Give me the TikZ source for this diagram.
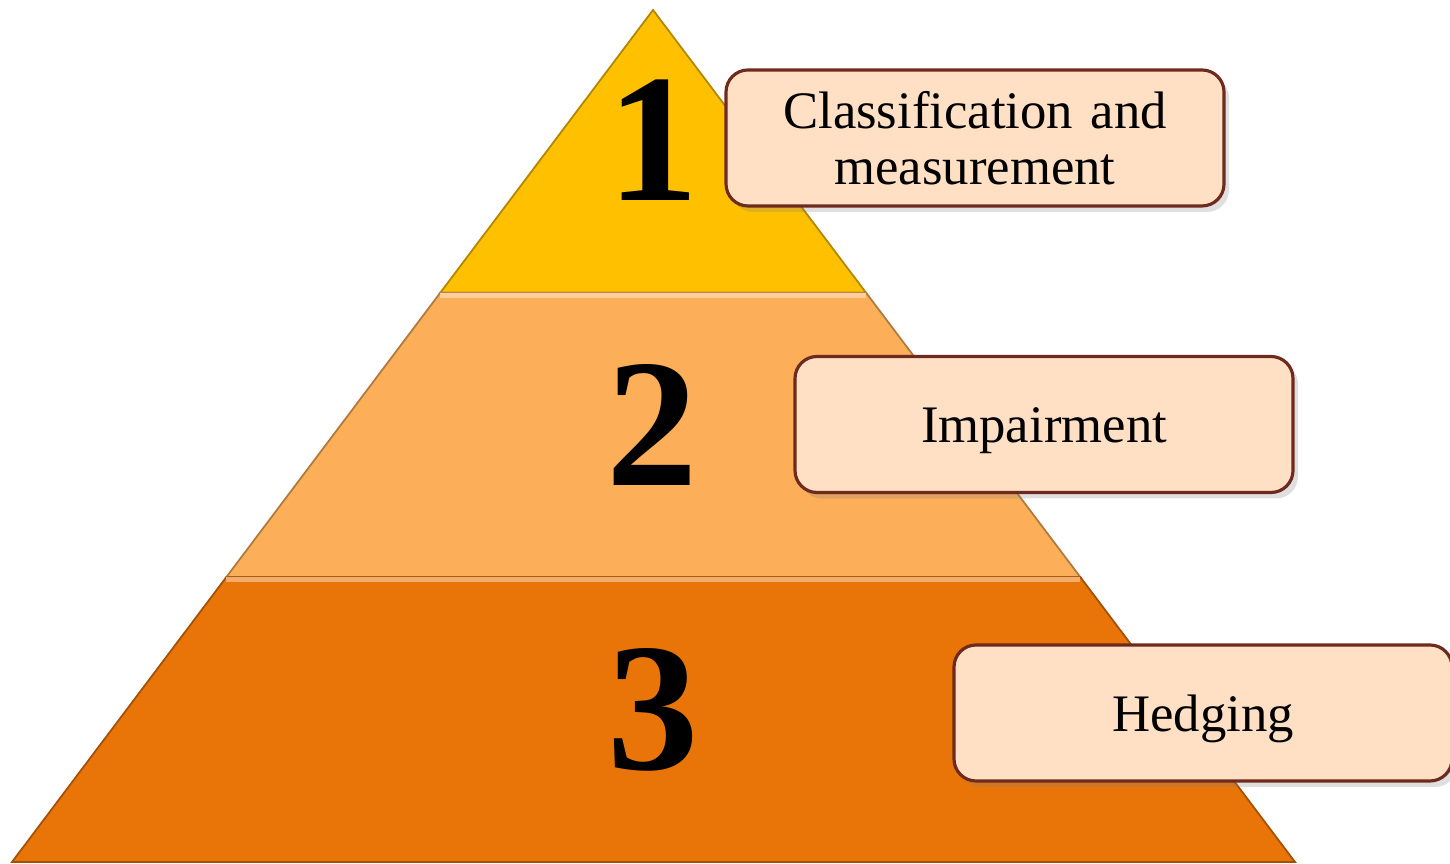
\documentclass[tikz,border=0pt]{standalone}
\usepackage{fontspec}
\setmainfont{Liberation Serif}
\usetikzlibrary{calc,shadows}

\definecolor{tierA}{HTML}{FFC000}
\definecolor{tierB}{HTML}{FCAE58}
\definecolor{tierC}{HTML}{E97408}
\definecolor{labelFill}{HTML}{FFE0C4}
\definecolor{labelEdge}{HTML}{6E2A1E}

\tikzset{
  tier/.style={line width=0.5pt, draw=#1!70!black, fill=#1},
  label box/.style={draw=labelEdge, line width=0.9pt, fill=labelFill,
        rounded corners=0.22cm, minimum width=4.98cm, minimum height=1.36cm,
        text width=4.7cm, align=center,
        font=\fontsize{15}{15.8}\selectfont,
        drop shadow={shadow xshift=0.5mm, shadow yshift=-0.6mm, opacity=0.25}},
  one line/.style={text height=10.5pt, text depth=0pt},
  tier number/.style={font=\fontsize{52}{56}\selectfont\bfseries}
}

\begin{document}
\begin{tikzpicture}
        \useasboundingbox (0,0) rectangle (14.5,8.64);

        % corners of the pyramid
        \coordinate (apex) at (6.53,8.54);
        \coordinate (bl) at (0.12,0.02);
        \coordinate (br) at (12.95,0.02);

        % Layers, top to bottom
        \foreach \name/\from/\to/\col in {top/0/0.332/tierA, mid/0.332/0.6655/tierB, low/0.6655/1/tierC} {
            \coordinate (\name-tl) at ($(apex)!\from!(bl)$);
            \coordinate (\name-bl) at ($(apex)!\to!(bl)$);
            \coordinate (\name-br) at ($(apex)!\to!(br)$);
            \coordinate (\name-tr) at ($(apex)!\from!(br)$);
            \begin{scope}
                \path[tier=\col] (\name-tl) -- (\name-bl) -- (\name-br) -- (\name-tr) -- cycle;
                \clip (\name-tl) -- (\name-bl) -- (\name-br) -- (\name-tr) -- cycle;
                % light bevel along the top edge
                \draw[\col!60!white, line width=3pt] (\name-tl) -- (\name-tr);
            \end{scope}
        }

        % Numbers
        \node[tier number] (n1) at (6.53,7.24) {1};
        \node[tier number] (n2) at (6.52,4.39) {2};
        \node[tier number] (n3) at (6.53,1.54) {3};

        % Labels
        \node[label box] (b1) at (9.75,7.26) {Classification and\\measurement};
        \node[label box, one line] (b2) at (10.44,4.395) {Impairment};
        \node[label box, one line] (b3) at (12.03,1.51) {Hedging};
\end{tikzpicture}
\end{document}
